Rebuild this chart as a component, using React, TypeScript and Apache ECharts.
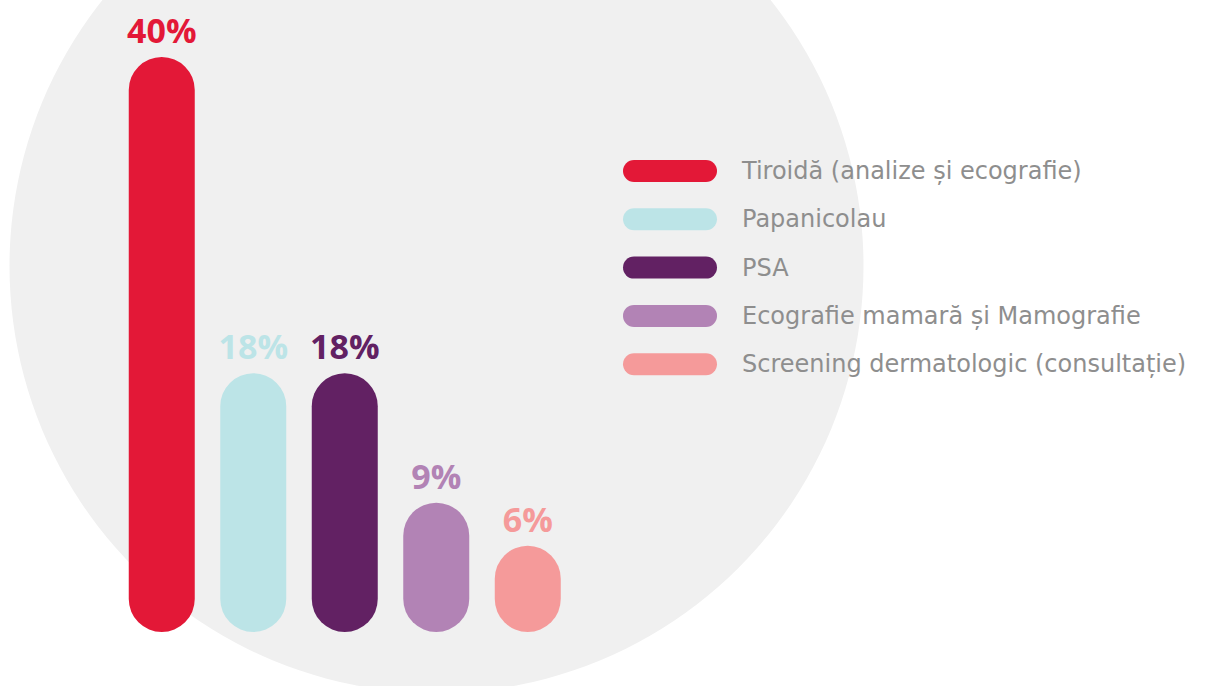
import React, { useEffect, useRef } from "react";
import * as echarts from "echarts";

const categories = [
  "Tiroidă (analize și ecografie)",
  "Papanicolau",
  "PSA",
  "Ecografie mamară și Mamografie",
  "Screening dermatologic (consultație)",
];
const values = [40, 18, 18, 9, 6];
const colors = ["#e31837", "#bce4e7", "#622163", "#b283b5", "#f59a9a"];

export default function App() {
  const ref = useRef<HTMLDivElement>(null);
  useEffect(() => {
    document.body.style.margin = "0";
    const chart = echarts.init(ref.current!, null, { renderer: "svg" });
    const series = categories.map((name, i) => ({
      name,
      type: "bar",
      barWidth: 66,
      barGap: "-100%",
      clip: false,
      data: values.map((v, j) => (j === i ? v : "-")),
      itemStyle: { color: colors[i], borderRadius: 33 },
      label: {
        show: true,
        position: "top",
        distance: 10,
        formatter: "{c}%",
        color: colors[i],
        fontFamily: "Open Sans",
        fontWeight: 700,
        fontSize: 34,
      },
    }));
    chart.setOption({
      animation: false,
      backgroundColor: "#ffffff",
      graphic: [
        {
          type: "circle",
          z: -10,
          shape: { cx: 436.5, cy: 266, r: 427 },
          style: { fill: "#f0f0f0" },
          silent: true,
        },
      ],
      grid: { left: 116, right: 634.5, top: 57, bottom: 54 },
      xAxis: {
        type: "category",
        data: categories,
        show: false,
      },
      yAxis: {
        type: "value",
        min: 0,
        max: 40,
        show: false,
        splitLine: { show: false },
      },
      legend: {
        orient: "vertical",
        left: 623,
        top: 159,
        padding: 0,
        itemWidth: 94,
        itemHeight: 22,
        itemGap: 24.3,
        icon: "path://M11,0 H83 A11,11 0 0 1 83,22 H11 A11,11 0 0 1 11,0 Z",
        selectedMode: false,
        textStyle: {
          color: "#8e8e8e",
          fontFamily: "DejaVu Sans",
          fontWeight: 400,
          fontSize: 24,
          lineHeight: 22,
          padding: [0, 0, 0, 20],
        },
        data: categories,
      },
      series,
    });
    return () => chart.dispose();
  }, []);
  return <div ref={ref} style={{ width: 1208, height: 686 }} />;
}
